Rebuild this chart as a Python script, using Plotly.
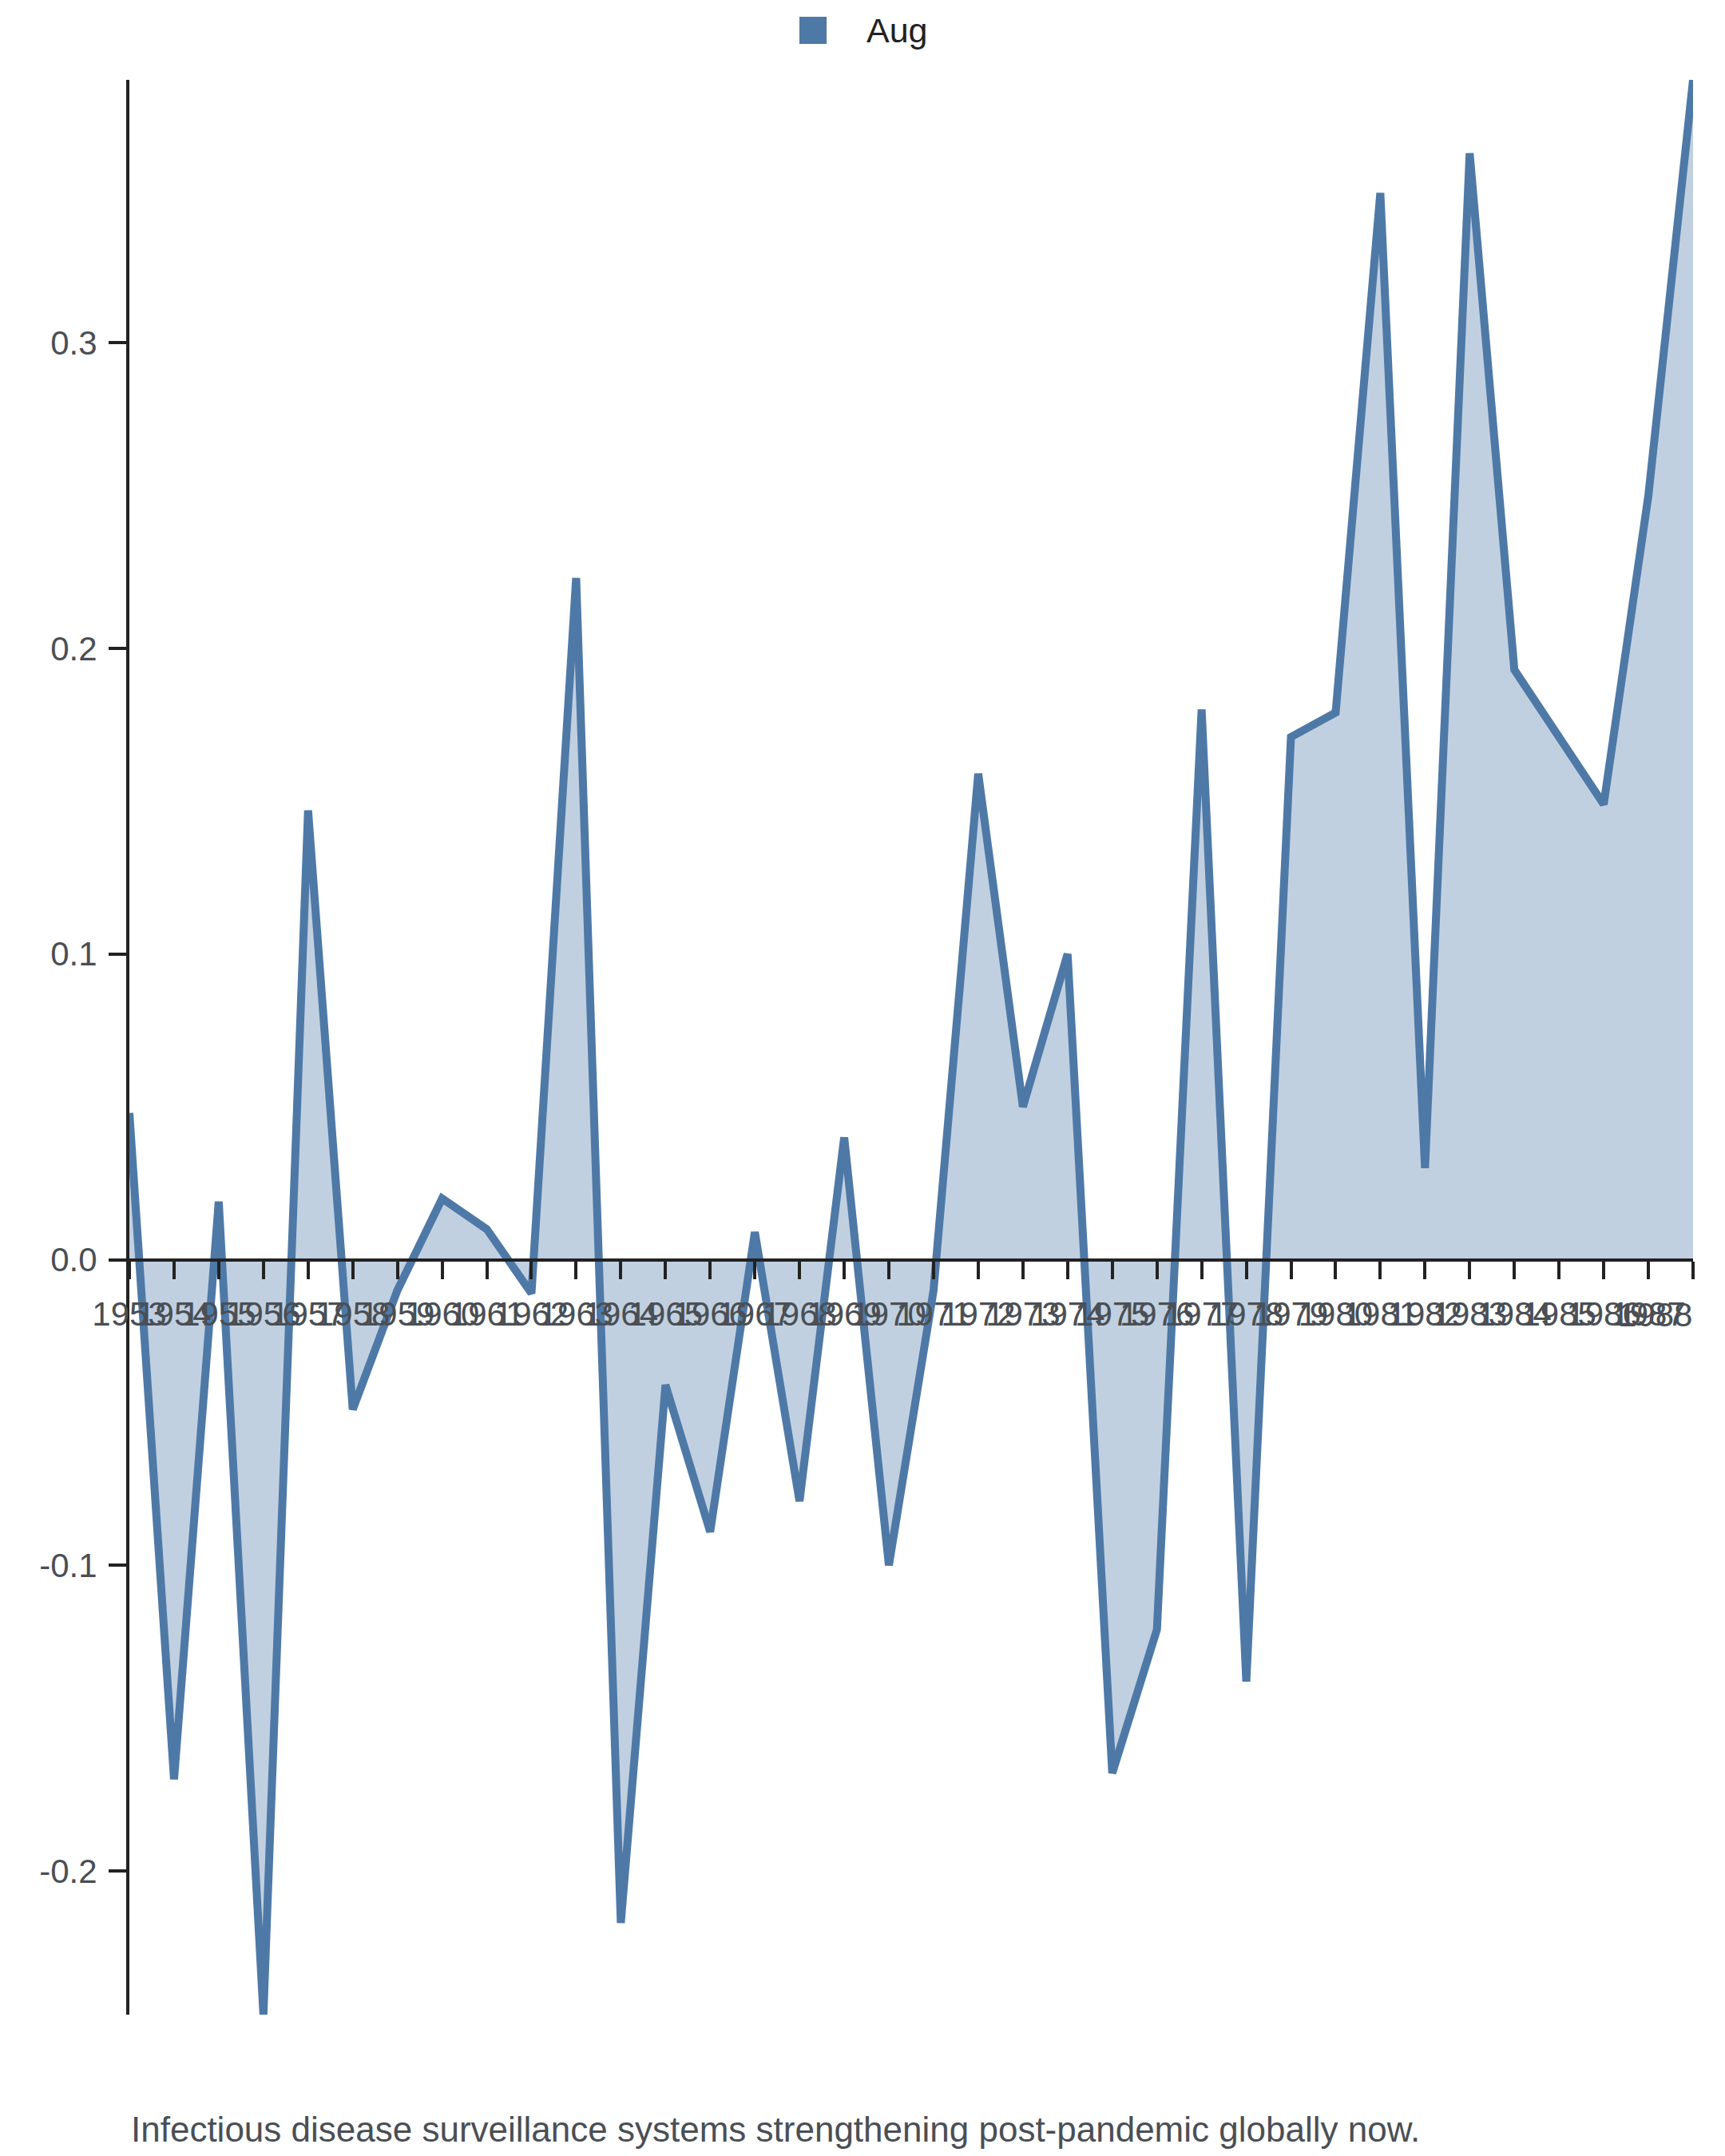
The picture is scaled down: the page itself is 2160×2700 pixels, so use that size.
import plotly.graph_objects as go

# Data
years = [1953, 1954, 1955, 1956, 1957, 1958, 1959, 1960, 1961, 1962, 1963, 1964,
         1965, 1966, 1967, 1968, 1969, 1970, 1971, 1972, 1973, 1974, 1975, 1976,
         1977, 1978, 1979, 1980, 1981, 1982, 1983, 1984, 1985, 1986, 1987, 1988]
aug = [0.048, -0.170, 0.019, -0.247, 0.147, -0.049, -0.010, 0.020, 0.010, -0.011,
       0.223, -0.217, -0.041, -0.089, 0.009, -0.079, 0.040, -0.100, -0.010, 0.159,
       0.050, 0.100, -0.168, -0.121, 0.180, -0.138, 0.171, 0.179, 0.349, 0.030,
       0.362, 0.193, 0.171, 0.149, 0.250, 0.386]
y_ticks = [-0.2, -0.1, 0.0, 0.1, 0.2, 0.3]
y_tick_labels = ["-0.2", "-0.1", "0.0", "0.1", "0.2", "0.3"]
series_name = "Aug"
caption = "Infectious disease surveillance systems strengthening post-pandemic globally now."

line_color = "#4e79a7"
fill_color = "rgba(78,121,167,0.35)"
axis_color = "#222222"
label_color = "#4a4f55"
font_family = "Liberation Sans, Arial, sans-serif"

# x tick labels; the last one is drawn separately, flush with the plot edge
x_tick_labels = [str(y) for y in years]
last_label = x_tick_labels[-1]
x_tick_labels[-1] = ""

y_min, y_max = min(aug), max(aug)
zero_pos = (0 - y_min) / (y_max - y_min)

fig = go.Figure()
fig.add_trace(go.Scatter(
    x=years, y=aug, name=series_name, mode="lines",
    fill="tozeroy", fillcolor=fill_color,
    line=dict(color=line_color, width=10),
    showlegend=False,
))

# the page body adds an 8px offset, so margins are trimmed by that amount
fig.update_layout(
    width=2160, height=2700,
    margin=dict(l=154, r=48, t=92, b=185),
    paper_bgcolor="white", plot_bgcolor="white",
    font=dict(family=font_family, size=42, color=label_color),
    showlegend=False,
)

fig.update_xaxes(
    range=[years[0], years[-1]],
    anchor="free", position=zero_pos, automargin=False,
    tickmode="array", tickvals=years, ticktext=x_tick_labels,
    tickangle=0, ticklabeloverflow="allow", ticklabelstandoff=8,
    showline=True, linecolor=axis_color, linewidth=4,
    ticks="outside", ticklen=22, tickwidth=4, tickcolor=axis_color,
    showgrid=False, zeroline=False,
    tickfont=dict(family=font_family, size=42, color=label_color),
)
fig.update_yaxes(
    range=[y_min, y_max], automargin=False,
    tickmode="array", tickvals=y_ticks, ticktext=y_tick_labels,
    ticklabelstandoff=6,
    showline=True, linecolor=axis_color, linewidth=4,
    ticks="outside", ticklen=22, tickwidth=4, tickcolor=axis_color,
    showgrid=False, zeroline=False,
    tickfont=dict(family=font_family, size=42, color=label_color),
)

# last year label, right-aligned to its tick
fig.add_annotation(
    text=last_label, x=years[-1], xref="x",
    y=zero_pos - 0.0283, yref="paper", xanchor="right", yanchor="middle",
    showarrow=False, borderpad=0,
    font=dict(family=font_family, size=42, color=label_color),
)

# Legend drawn by hand: square swatch plus label, centred above the plot
fig.add_shape(
    type="rect", xref="paper", yref="paper",
    x0=0.4285, x1=0.4459, y0=1.0186, y1=1.0326,
    fillcolor=line_color, line=dict(width=0),
)
fig.add_annotation(
    text=series_name, xref="paper", yref="paper",
    x=0.4705, y=1.0256, xanchor="left", yanchor="middle",
    showarrow=False, font=dict(family=font_family, size=43, color="#222222"),
)

# Caption under the chart
fig.add_annotation(
    text=caption, xref="paper", yref="paper",
    x=0, y=-0.0594, xanchor="left", yanchor="middle",
    showarrow=False, font=dict(family=font_family, size=44, color=label_color),
)

fig.write_html("out.html")
